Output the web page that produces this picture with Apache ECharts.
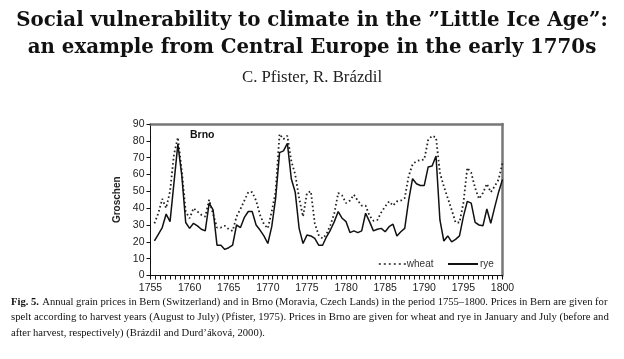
<!DOCTYPE html>
<html><head><meta charset="utf-8">
<script src="https://cdn.jsdelivr.net/npm/echarts@6/dist/echarts.min.js"></script>
<style>html,body{margin:0;padding:0;background:#fff}#c{width:624px;height:359px}</style>
</head><body><div id="c"></div>
<script>
// Semi-annual observations (January / July), 1755.5 ... 1800.0
const firstObs = 1755.5;
const wheat = [
  31, 37, 45.5, 40, 50, 72, 82, 62, 38,            // 1755.5-1759.5
  34, 40, 38, 36, 35, 45, 36.5, 28.5, 28.5, 29.5,  // 1760-1764.5
  27.5, 26.5, 35, 39.5, 44.5, 49.5, 49.5, 44.5, 36, 30.5, // 1765-1769.5
  28, 38, 50, 84, 81, 83, 68, 60, 46, 35,          // 1770-1774.5
  49, 50, 31, 24, 22, 24.5, 30, 37, 49, 47.5,      // 1775-1779.5
  43, 44.5, 48, 44.5, 41.5, 41.5, 35.5, 32.5, 33, 37.5, // 1780-1784.5
  41, 44, 41.5, 44, 44.5, 46, 59, 66, 68, 68.5,    // 1785-1789.5
  69, 80.5, 83, 82, 61, 53, 46, 39, 31.5, 31.5,    // 1790-1794.5
  43, 64, 61, 52, 45.5, 49, 54.5, 49.5, 53, 57,    // 1795-1799.5
  67                                               // 1800
];
const rye = [
  20.5, 24.5, 28.5, 36.5, 32, 55, 78, 59.5, 31.5,
  28, 31, 29.5, 27.5, 26.5, 43, 39, 18, 18, 15.5,
  16.5, 18, 30, 28.5, 34.5, 38, 38, 30, 27, 23.5,
  19, 29, 46, 73, 74, 78.5, 57.5, 49.5, 28, 19,
  24, 23.5, 22, 18, 18, 23, 27, 32, 38, 34,
  32, 25.5, 26.5, 25.5, 26.5, 37, 32, 26.5, 27.5, 28,
  26, 29, 30.5, 23.5, 26, 28, 44.5, 57.5, 54.5, 53.5,
  53.5, 64.5, 65, 71, 33, 20.5, 23.5, 20, 21.5, 23.5,
  35, 44, 43, 31.5, 30, 29.5, 39.5, 31, 40.5, 49.5,
  57
];
const xTicks = {min: 1755, max: 1800, step: 5};
const yTicks = {min: 0, max: 90, step: 10};
const seriesNames = ['wheat', 'rye'];

const halfYears = wheat.map((_, i) => firstObs + i * 0.5);
const toPairs = arr => arr.map((v, i) => [halfYears[i], v]);

const chart = echarts.init(document.getElementById('c'), null, {renderer: 'canvas'});
const serif = '"Liberation Serif", "DejaVu Serif", serif';
const wideSerif = '"DejaVu Serif", serif';
const sans = '"Liberation Sans", Arial, sans-serif';

chart.setOption({
  backgroundColor: '#fff',
  animation: false,
  grid: {left: 150.5, right: 121.5, top: 124, bottom: 83.5, containLabel: false},
  xAxis: [{
    type: 'value', min: xTicks.min, max: xTicks.max, interval: xTicks.step,
    axisLine: {onZero: false, lineStyle: {color: '#111', width: 1}},
    axisTick: {show: true, length: 4, lineStyle: {color: '#111'}},
    minorTick: {show: true, splitNumber: 8, length: 4, lineStyle: {color: '#111'}},
    splitLine: {show: false},
    axisLabel: {fontFamily: sans, fontSize: 10.5, color: '#222', margin: 7, formatter: v => String(v)}
  }, {
    type: 'value', position: 'top', min: xTicks.min, max: xTicks.max,
    axisLine: {show: true, onZero: false, lineStyle: {color: '#777', width: 2.5}},
    axisTick: {show: false}, axisLabel: {show: false}, splitLine: {show: false}
  }],
  yAxis: [{
    type: 'value', min: yTicks.min, max: yTicks.max, interval: yTicks.step,
    name: 'Groschen', nameLocation: 'middle', nameGap: 24, nameRotate: 90,
    nameTextStyle: {fontFamily: sans, fontSize: 10, fontWeight: 'bold', color: '#222'},
    axisLine: {show: true, onZero: false, lineStyle: {color: '#111', width: 1}},
    axisTick: {show: true, length: 4, lineStyle: {color: '#111'}},
    splitLine: {show: false},
    axisLabel: {fontFamily: sans, fontSize: 10.5, color: '#222', margin: 6}
  }, {
    type: 'value', position: 'right', min: yTicks.min, max: yTicks.max,
    axisLine: {show: true, onZero: false, lineStyle: {color: '#777', width: 2.5}},
    axisTick: {show: false}, axisLabel: {show: false}, splitLine: {show: false}
  }],
  legend: [{
    data: [seriesNames[0]], left: 373, top: 254, itemWidth: 27, itemHeight: 12, itemGap: 4,
    itemStyle: {opacity: 0},
    lineStyle: {type: [2, 3], width: 1.6},
    textStyle: {fontFamily: sans, fontSize: 10, color: '#333', padding: [0, 0, 0, -4]}
  }, {
    data: [seriesNames[1]], left: 442, top: 254, itemWidth: 30, itemHeight: 12,
    itemStyle: {opacity: 0},
    textStyle: {fontFamily: sans, fontSize: 10, color: '#333', padding: [0, 0, 0, -3]}
  }],
  series: [{
    name: seriesNames[0], type: 'line', data: toPairs(wheat), symbol: 'none',
    lineStyle: {color: '#222', width: 1.8, type: [1.6, 2.6]}, itemStyle: {color: '#222'}
  }, {
    name: seriesNames[1], type: 'line', data: toPairs(rye), symbol: 'none',
    lineStyle: {color: '#111', width: 1.5, type: 'solid'}, itemStyle: {color: '#111'}
  }],
  graphic: [
    {type: 'text', left: 'center', top: 11, style: {text: 'Social vulnerability to climate in the \u201dLittle Ice Age\u201d:', font: 'bold 19.8px ' + wideSerif, fill: '#111'}},
    {type: 'text', left: 'center', top: 38, style: {text: 'an example from Central Europe in the early 1770s', font: 'bold 19.8px ' + wideSerif, fill: '#111'}},
    {type: 'text', left: 'center', top: 69, style: {text: 'C. Pfister, R. Br\u00e1zdil', font: '16.8px ' + serif, fill: '#222'}},
    {type: 'text', left: 190, top: 130, style: {text: 'Brno', font: 'bold 10.5px ' + sans, fill: '#111'}},
    {type: 'text', left: 11, top: 296, style: {
      rich: {b: {font: 'bold 10.6px ' + serif, fill: '#111'}, n: {font: '10.6px ' + serif, fill: '#111'}},
      text: '{b|Fig. 5.} {n|Annual grain prices in Bern (Switzerland) and in Brno (Moravia, Czech Lands) in the period 1755\u20131800. Prices in Bern are given for}'
    }},
    {type: 'text', left: 11, top: 312, style: {font: '10.75px ' + serif, fill: '#111',
      text: 'spelt according to harvest years (August to July) (Pfister, 1975). Prices in Brno are given for wheat and rye in January and July (before and'}},
    {type: 'text', left: 11, top: 328, style: {font: '10.6px ' + serif, fill: '#111',
      text: 'after harvest, respectively) (Br\u00e1zdil and Durd\u2019\u00e1kov\u00e1, 2000).'}}
  ]
});
</script></body></html>
